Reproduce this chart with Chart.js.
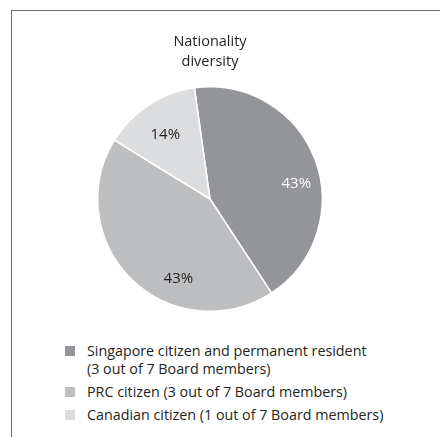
<!DOCTYPE html>
<html>
<head>
<meta charset="utf-8">
<script src="https://cdn.jsdelivr.net/npm/chart.js@4"></script>
<style>
  html, body { margin: 0; padding: 0; background: #fff; }
  body { width: 440px; height: 437px; position: relative; overflow: hidden; font-family: "Open Sans", "Liberation Sans", sans-serif; }
  #frame { position: absolute; left: 11px; top: 10px; width: 460px; height: 460px; border-left: 1.5px solid #6d6e70; border-top: 1.5px solid #6d6e70; box-sizing: border-box; }
  #wrap { position: absolute; left: 0; top: 0; width: 440px; height: 312px; }
  #legend { position: absolute; left: 65px; top: 342px; color: #231f20; font-size: 14.3px; line-height: 18px; }
  .item { display: flex; align-items: flex-start; margin-bottom: 5px; }
  .box { width: 10px; height: 10px; margin-top: 4px; margin-right: 12px; flex: none; }
</style>
</head>
<body>
<div id="frame"></div>
<div id="wrap"><canvas id="chart"></canvas></div>
<div id="legend"></div>
<script>
// Board composition by nationality
const titleLines = ["Nationality", "diversity"];
const categories = ["Singapore citizen and permanent resident", "PRC citizen", "Canadian citizen"];
const categoryNotes = ["(3 out of 7 Board members)", "(3 out of 7 Board members)", "(1 out of 7 Board members)"];
const shares = [43, 43, 14];
const sliceColors = ["#939598", "#bcbec0", "#dcddde"];
const valueLabelColors = ["#ffffff", "#231f20", "#231f20"];
// where each percentage sits inside its slice: fraction of the sweep, fraction of the radius
const labelSweep = [0.57, 0.355, 0.47];
const labelRadius = [0.78, 0.76, 0.70];

const sliceLabels = {
  id: "sliceLabels",
  afterDatasetsDraw(chart) {
    const ctx = chart.ctx;
    const meta = chart.getDatasetMeta(0);
    ctx.save();
    ctx.font = '15px "Open Sans", sans-serif';
    ctx.textAlign = "center";
    ctx.textBaseline = "middle";
    meta.data.forEach((arc, i) => {
      const p = arc.getProps(["x", "y", "startAngle", "endAngle", "outerRadius"], true);
      const a = p.startAngle + labelSweep[i] * (p.endAngle - p.startAngle);
      const r = p.outerRadius * labelRadius[i];
      ctx.fillStyle = valueLabelColors[i];
      ctx.fillText(shares[i] + "%", p.x + Math.cos(a) * r, p.y + Math.sin(a) * r);
    });
    ctx.restore();
  }
};

new Chart(document.getElementById("chart"), {
  type: "pie",
  data: {
    labels: categories,
    datasets: [{
      data: shares,
      backgroundColor: sliceColors,
      borderColor: "#ffffff",
      borderWidth: 1.5
    }]
  },
  options: {
    responsive: true,
    maintainAspectRatio: false,
    animation: false,
    rotation: -8,
    layout: { padding: { left: 0, right: 20, top: 0, bottom: 0 } },
    plugins: {
      legend: { display: false },
      tooltip: { enabled: false },
      title: {
        display: true,
        text: titleLines,
        color: "#231f20",
        font: { family: '"Open Sans", sans-serif', size: 14.5, weight: "normal", lineHeight: 1.38 },
        padding: { top: 32, bottom: 14 }
      }
    }
  },
  plugins: [sliceLabels]
});

// legend below the pie, built from the same categories and colours
const legend = document.getElementById("legend");
categories.forEach((name, i) => {
  const item = document.createElement("div");
  item.className = "item";
  const box = document.createElement("div");
  box.className = "box";
  box.style.background = sliceColors[i];
  const text = document.createElement("div");
  if (i === 0) {
    text.innerHTML = name + "<br>" + categoryNotes[i];
  } else {
    text.textContent = name + " " + categoryNotes[i];
  }
  item.appendChild(box);
  item.appendChild(text);
  legend.appendChild(item);
});
</script>
</body>
</html>
